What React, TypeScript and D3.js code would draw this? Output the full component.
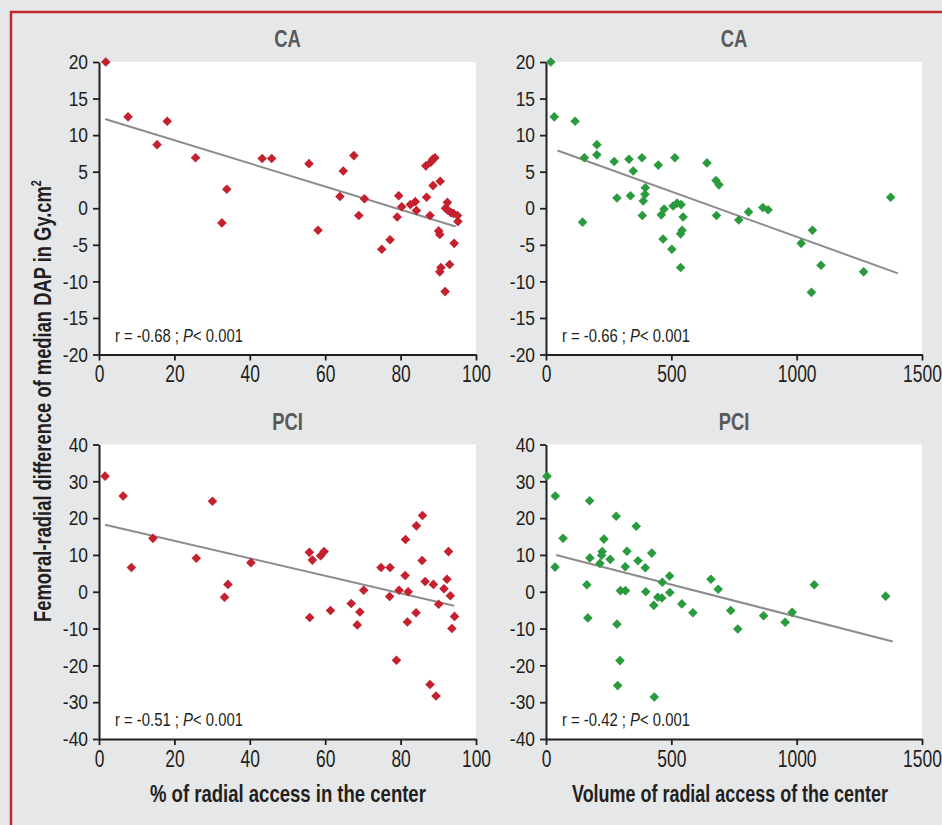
import React, { useEffect, useRef } from 'react';
import * as d3 from 'd3';

// CA, % radial access vs femoral-radial difference
const caPct: [number, number][] = [
  [1.8, 20], [7.7, 12.5], [18.1, 11.9], [15.4, 8.7], [25.6, 6.9], [33.9, 2.6], [32.6, -2.0],
  [43.3, 6.8], [45.8, 6.8], [55.7, 6.1], [58.1, -3.0], [64.8, 5.1], [63.9, 1.6], [67.6, 7.2],
  [70.4, 1.3], [68.9, -1.0], [75.0, -5.6], [77.2, -4.3], [79.5, 1.7], [79.1, -1.2], [80.3, 0.2],
  [82.6, 0.5], [83.9, 0.9], [84.2, -0.3], [86.7, 5.8], [88.0, 6.3], [88.5, 6.7], [89.1, 6.9],
  [86.9, 1.5], [88.6, 3.1], [90.5, 3.7], [87.8, -1.0], [90.1, -3.1], [90.4, -3.6], [90.7, -8.1],
  [90.4, -8.7], [91.8, -11.4], [93.0, -7.7], [94.2, -4.8], [92.4, 0.8], [91.9, 0.0], [92.6, -0.3],
  [93.4, -0.6], [94.0, -0.7], [95.1, -1.0], [95.2, -1.8],
];
const caPctFit: [number, number][] = [[1.6, 12.2], [94.6, -2.5]];

// CA, volume of radial access
const caVol: [number, number][] = [
  [19, 20], [33, 12.5], [116, 11.9], [203, 8.7], [203, 7.3], [153, 6.9], [146, -1.9], [272, 6.4],
  [283, 1.4], [331, 6.7], [348, 5.1], [337, 1.7], [383, 6.9], [396, 2.8], [395, 1.9], [388, 1.0],
  [384, -1.0], [448, 5.9], [471, -0.1], [460, -0.9], [467, -4.2], [502, -5.6], [514, 6.9],
  [507, 0.3], [523, 0.7], [539, 0.5], [547, -1.2], [543, -3.0], [537, -3.5], [537, -8.1],
  [642, 6.2], [678, 3.8], [690, 3.2], [680, -1.0], [769, -1.6], [808, -0.5], [865, 0.1],
  [886, -0.2], [1018, -4.8], [1063, -3.0], [1059, -11.5], [1097, -7.8], [1267, -8.7], [1375, 1.5],
];
const caVolFit: [number, number][] = [[46, 7.9], [1404, -8.9]];

// PCI, % radial access
const pciPct: [number, number][] = [
  [1.6, 31.4], [6.4, 26.0], [8.6, 6.6], [14.3, 14.5], [25.8, 9.1], [30.1, 24.6], [33.3, -1.5],
  [34.2, 2.0], [40.3, 7.9], [55.8, 10.7], [56.6, 8.6], [58.8, 9.8], [59.7, 10.9], [55.9, -7.0],
  [61.4, -5.1], [66.9, -3.2], [69.2, -5.5], [68.5, -9.0], [70.2, 0.4], [74.8, 6.6], [77.2, 6.6],
  [77.1, -1.3], [78.9, -18.6], [79.6, 0.4], [81.3, 14.2], [81.2, 4.4], [82.0, 0.0], [81.8, -8.2],
  [84.2, 17.9], [85.8, 20.7], [85.7, 8.5], [86.5, 2.8], [84.1, -5.7], [88.7, 2.0], [87.8, -25.2],
  [89.4, -28.3], [91.5, 0.8], [90.1, -3.4], [92.3, 3.4], [92.7, 10.9], [93.2, -1.1], [94.3, -6.7],
  [93.6, -10.0],
];
const pciPctFit: [number, number][] = [[1.6, 18.2], [94.2, -3.8]];

// PCI, volume of radial access
const pciVol: [number, number][] = [
  [4, 31.4], [37, 26.0], [36, 6.7], [68, 14.5], [174, 24.7], [175, 9.2], [163, 1.9], [167, -7.1],
  [231, 14.3], [224, 10.9], [222, 9.9], [215, 7.7], [256, 8.8], [280, 20.5], [323, 11.0],
  [316, 6.8], [297, 0.3], [317, 0.3], [283, -8.8], [295, -18.7], [286, -25.5], [360, 17.8],
  [367, 8.4], [396, 6.5], [398, 0.0], [422, 10.5], [430, -3.7], [432, -28.6], [446, -1.5],
  [462, -1.7], [464, 2.6], [493, 4.3], [494, -0.2], [542, -3.3], [586, -5.7], [658, 3.4],
  [687, 0.7], [737, -5.1], [765, -10.1], [868, -6.5], [954, -8.3], [982, -5.6], [1070, 1.9],
  [1355, -1.2],
];
const pciVolFit: [number, number][] = [[40, 10.0], [1383, -13.5]];

const pctTicks = [0, 20, 40, 60, 80, 100];
const volTicks = [0, 500, 1000, 1500];
const caTicks = [-20, -15, -10, -5, 0, 5, 10, 15, 20];
const pciTicks = [-40, -30, -20, -10, 0, 10, 20, 30, 40];

const FONT = '"Liberation Sans", Arial, Helvetica, sans-serif';
const RED = '#c5202e';
const GREEN = '#2a9a3e';
const INK = '#231f20';
const SX = 0.83; // horizontal squeeze to imitate a condensed face

const panels = [
  { title: 'CA', left: 99, right: 476, top: 62, bottom: 354.5, xDom: [0, 100], xTicks: pctTicks, yDom: [-20, 20], yTicks: caTicks, pts: caPct, fit: caPctFit, color: RED, r: '-0.68' },
  { title: 'CA', left: 546, right: 922, top: 62, bottom: 354.5, xDom: [0, 1500], xTicks: volTicks, yDom: [-20, 20], yTicks: caTicks, pts: caVol, fit: caVolFit, color: GREEN, r: '-0.66' },
  { title: 'PCI', left: 99, right: 476, top: 444.5, bottom: 739, xDom: [0, 100], xTicks: pctTicks, yDom: [-40, 40], yTicks: pciTicks, pts: pciPct, fit: pciPctFit, color: RED, r: '-0.51' },
  { title: 'PCI', left: 546, right: 922, top: 444.5, bottom: 739, xDom: [0, 1500], xTicks: volTicks, yDom: [-40, 40], yTicks: pciTicks, pts: pciVol, fit: pciVolFit, color: GREEN, r: '-0.42' },
];

// squeeze a text horizontally so that it is exactly `width` wide
function fitText(sel: any, x: number, y: number, width: number, extra = '') {
  const len = sel.node().getComputedTextLength() || width;
  sel.attr('transform', `translate(${x},${y}) ${extra} scale(${width / len},1)`);
}

export default function App() {
  const ref = useRef<SVGSVGElement>(null);

  useEffect(() => {
    const svg = d3.select(ref.current);
    svg.selectAll('*').remove();

    svg.append('rect').attr('width', 942).attr('height', 825).attr('fill', '#e6e7e8');
    svg.append('path')
      .attr('d', 'M11,825 L11,12 L942,12')
      .attr('fill', 'none')
      .attr('stroke', '#c1272d')
      .attr('stroke-width', 2.5);

    const diamond = d3.symbol().type(d3.symbolSquare).size(46)();
    const fmt = (d: any) => String(d);

    panels.forEach((p) => {
      const x = d3.scaleLinear().domain(p.xDom).range([p.left, p.right]);
      const y = d3.scaleLinear().domain(p.yDom).range([p.bottom, p.top]);
      const g = svg.append('g');

      g.append('rect')
        .attr('x', p.left).attr('y', p.top)
        .attr('width', p.right - p.left).attr('height', p.bottom - p.top)
        .attr('fill', '#fff');

      g.append('text')
        .attr('transform', `translate(${(p.left + p.right) / 2},${p.top - 15}) scale(0.8,1)`)
        .attr('text-anchor', 'middle')
        .attr('font-family', FONT).attr('font-weight', 'bold').attr('font-size', 23)
        .attr('fill', '#58595b')
        .text(p.title);

      const xAxis = g.append('g')
        .attr('transform', `translate(0,${p.bottom})`)
        .call(d3.axisBottom(x).tickValues(p.xTicks).tickFormat(fmt).tickSize(6).tickSizeOuter(0).tickPadding(4));
      const yAxis = g.append('g')
        .attr('transform', `translate(${p.left},0)`)
        .call(d3.axisLeft(y).tickValues(p.yTicks).tickFormat(fmt).tickSize(6).tickSizeOuter(0).tickPadding(5));

      [xAxis, yAxis].forEach((a) => {
        a.select('.domain').attr('stroke', INK).attr('stroke-width', 2);
        a.selectAll('.tick line').attr('stroke', INK).attr('stroke-width', 1.8);
        a.selectAll('.tick text')
          .attr('font-family', FONT).attr('font-size', 21).attr('fill', INK);
      });
      xAxis.selectAll('.tick text').attr('transform', `scale(${SX},1.12)`);
      yAxis.selectAll('.tick text').attr('x', -11 / SX).attr('transform', `scale(${SX},1)`);

      g.append('line')
        .attr('x1', x(p.fit[0][0])).attr('y1', y(p.fit[0][1]))
        .attr('x2', x(p.fit[1][0])).attr('y2', y(p.fit[1][1]))
        .attr('stroke', '#8c8c8c').attr('stroke-width', 2);

      g.selectAll('.pt')
        .data(p.pts)
        .enter().append('path')
        .attr('d', diamond)
        .attr('transform', (d) => `translate(${x(d[0])},${y(d[1])}) rotate(45)`)
        .attr('fill', p.color);

      const stat = g.append('text')
        .attr('font-family', FONT).attr('font-size', 18).attr('fill', INK);
      stat.append('tspan').text(`r = ${p.r} ; `);
      stat.append('tspan').attr('font-style', 'italic').text('P');
      stat.append('tspan').text('< 0.001');
      fitText(stat, p.left + 16, p.bottom - 13, 128);
    });

    // rotated y title, bottom end at page y 622, top end at 180
    const yTitle = svg.append('text')
      .attr('font-family', FONT).attr('font-weight', 'bold').attr('font-size', 24)
      .attr('fill', INK);
    yTitle.append('tspan').text('Femoral-radial difference of median DAP in Gy.cm');
    yTitle.append('tspan').attr('font-size', 14).attr('dy', -10).text('2');
    fitText(yTitle, 51, 622, 442, 'rotate(-90)');

    const t1 = svg.append('text')
      .attr('font-family', FONT).attr('font-weight', 'bold').attr('font-size', 23)
      .attr('fill', INK)
      .text('% of radial access in the center');
    fitText(t1, 150, 802, 276);
    const t2 = svg.append('text')
      .attr('font-family', FONT).attr('font-weight', 'bold').attr('font-size', 23)
      .attr('fill', INK)
      .text('Volume of radial access of the center');
    fitText(t2, 572, 802, 316);
  }, []);

  return (
    <svg ref={ref} width={942} height={825} style={{ position: 'absolute', left: 0, top: 0 }} />
  );
}
